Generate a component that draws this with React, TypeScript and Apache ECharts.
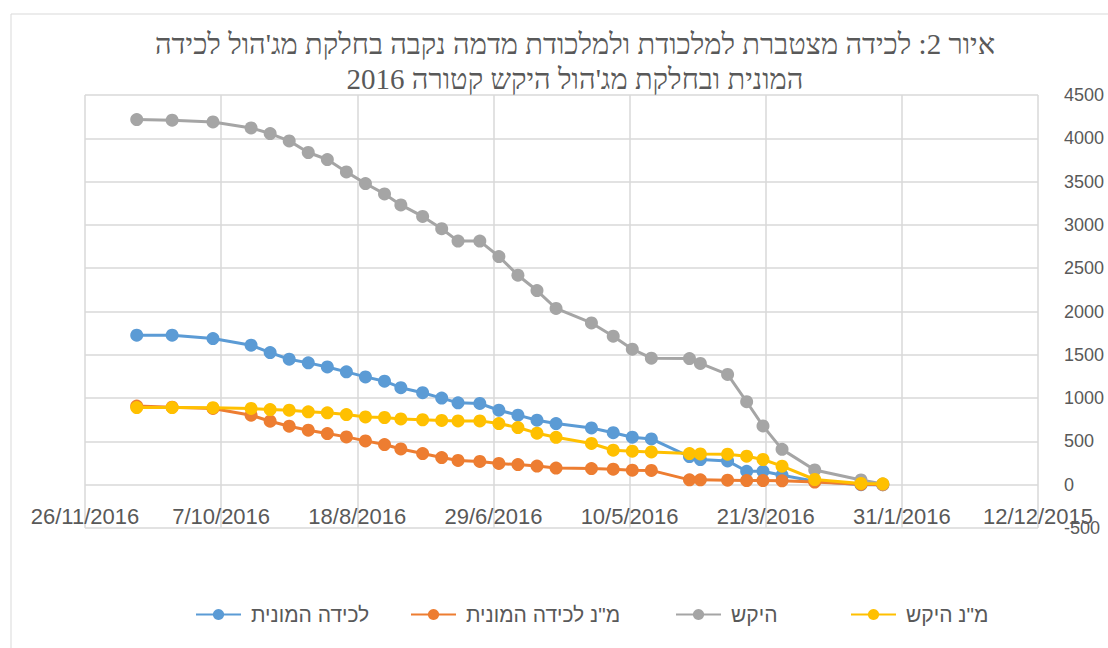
import React, { useEffect, useRef } from "react";
import * as echarts from "echarts";

const titleText =
  "איור 2: לכידה מצטברת למלכודת ולמלכודת מדמה נקבה בחלקת מג'הול לכידה\nהמונית ובחלקת מג'הול היקש קטורה 2016";

const seriesNames = ["לכידה המונית", "מ\"נ לכידה המונית", "היקש", "מ\"נ היקש"];
const seriesColors = ["#5B9BD5", "#ED7D31", "#A5A5A5", "#FFC000"];

// x tick labels, every 50 days from 12/12/2015 (axis drawn reversed)
const xTickLabels = [
  "12/12/2015",
  "31/1/2016",
  "21/3/2016",
  "10/5/2016",
  "29/6/2016",
  "18/8/2016",
  "7/10/2016",
  "26/11/2016",
];

const dates = [
  "2016-11-07", "2016-10-25", "2016-10-10", "2016-09-26", "2016-09-19", "2016-09-12",
  "2016-09-05", "2016-08-29", "2016-08-22", "2016-08-15", "2016-08-08", "2016-08-02",
  "2016-07-25", "2016-07-18", "2016-07-12", "2016-07-04", "2016-06-27", "2016-06-20",
  "2016-06-13", "2016-06-06", "2016-05-24", "2016-05-16", "2016-05-09", "2016-05-02",
  "2016-04-18", "2016-04-14", "2016-04-04", "2016-03-28", "2016-03-22", "2016-03-15",
  "2016-03-03", "2016-02-15", "2016-02-07",
];

const massTrap = [
  1726, 1726, 1688, 1611, 1526, 1449, 1407, 1360, 1303, 1245, 1195, 1120, 1062, 1000,
  945, 938, 860, 803, 745, 706, 655, 600, 548, 528, 325, 290, 275, 155, 155, 110, 40, 0, 0,
];
const massTrapFemale = [
  908, 895, 880, 803, 733, 675, 629, 591, 552, 506, 464, 413, 360, 314, 280, 268, 245,
  232, 215, 192, 187, 179, 168, 165, 56, 56, 52, 48, 48, 45, 30, 5, 0,
];
const attract = [
  4217, 4209, 4189, 4120, 4055, 3970, 3836, 3755, 3612, 3478, 3358, 3231, 3098, 2956,
  2813, 2813, 2635, 2419, 2242, 2035, 1868, 1715, 1565, 1461, 1457, 1400, 1273, 958, 679,
  408, 170, 55, 8,
];
const attractFemale = [
  891, 891, 889, 880, 868, 860, 841, 830, 810, 783, 776, 760, 750, 742, 737, 737, 706,
  660, 595, 547, 476, 398, 387, 379, 360, 355, 352, 329, 291, 214, 60, 15, 10,
];

const seriesValues = [massTrap, massTrapFemale, attract, attractFemale];

const yMin = -500;
const yMax = 4500;
const yStep = 500;

function dayOffset(s: string): number {
  const [y, m, d] = s.split("-").map(Number);
  return Math.round((Date.UTC(y, m - 1, d) - Date.UTC(2015, 11, 12)) / 86400000);
}

const legendLefts = [190, 405, 670, 845];

export default function App() {
  const ref = useRef<HTMLDivElement>(null);
  useEffect(() => {
    if (!ref.current) return;
    const chart = echarts.init(ref.current, null, { renderer: "svg" });
    const xs = dates.map(dayOffset);
    const labelFont = "'Liberation Sans', Arial, sans-serif";
    const option: any = {
      animation: false,
      backgroundColor: "#ffffff",
      title: {
        text: titleText,
        left: 570,
        textAlign: "center",
        top: 21,
        textStyle: {
          fontFamily: "'Liberation Serif', 'DejaVu Serif', serif",
          fontSize: 29,
          fontWeight: "normal",
          color: "#595959",
          lineHeight: 35,
        },
      },
      graphic: [
        {
          type: "rect",
          shape: { x: 11, y: 14, width: 1120, height: 640 },
          style: { fill: "none", stroke: "#D9D9D9", lineWidth: 1 },
          silent: true,
          z: -10,
        },
      ],
      legend: seriesNames.map((n, i) => ({
        data: [n],
        left: legendLefts[i],
        top: 599,
        itemWidth: 45,
        itemHeight: 14,
        textStyle: {
          fontFamily: "'Liberation Sans', 'DejaVu Sans', sans-serif",
          fontSize: 21,
          color: "#595959",
          padding: [0, 0, 0, 5],
        },
      })),
      grid: {
        left: 85,
        right: 70,
        top: 95,
        bottom: 120,
        containLabel: false,
        outerBoundsMode: "none",
      },
      xAxis: {
        type: "value",
        min: 0,
        max: 350,
        interval: 50,
        inverse: true,
        axisLine: { show: false, onZero: false },
        axisTick: { show: false },
        axisLabel: {
          margin: -23,
          color: "#595959",
          fontFamily: labelFont,
          fontSize: 22,
          formatter: (v: number) => xTickLabels[Math.round(v / 50)] ?? "",
        },
        splitLine: { show: true, lineStyle: { color: "#D9D9D9", width: 1.5 } },
      },
      yAxis: {
        type: "value",
        position: "right",
        min: yMin,
        max: yMax,
        interval: yStep,
        axisLine: { show: false, onZero: false },
        axisTick: { show: false },
        axisLabel: {
          margin: 26,
          color: "#595959",
          fontFamily: labelFont,
          fontSize: 18,
          formatter: (v: number) => String(v),
        },
        splitLine: { show: true, lineStyle: { color: "#D9D9D9", width: 1.5 } },
      },
      series: seriesNames.map((n, i) => ({
        name: n,
        type: "line",
        data: xs.map((x, j) => [x, seriesValues[i][j]]),
        symbol: "circle",
        symbolSize: 13,
        showSymbol: true,
        lineStyle: { width: 3, color: seriesColors[i] },
        itemStyle: { color: seriesColors[i] },
        z: 2 + i,
      })),
    };
    chart.setOption(option);
    return () => chart.dispose();
  }, []);
  return (
    <div
      ref={ref}
      style={{ position: "fixed", left: 0, top: 0, width: 1108, height: 648 }}
    />
  );
}
